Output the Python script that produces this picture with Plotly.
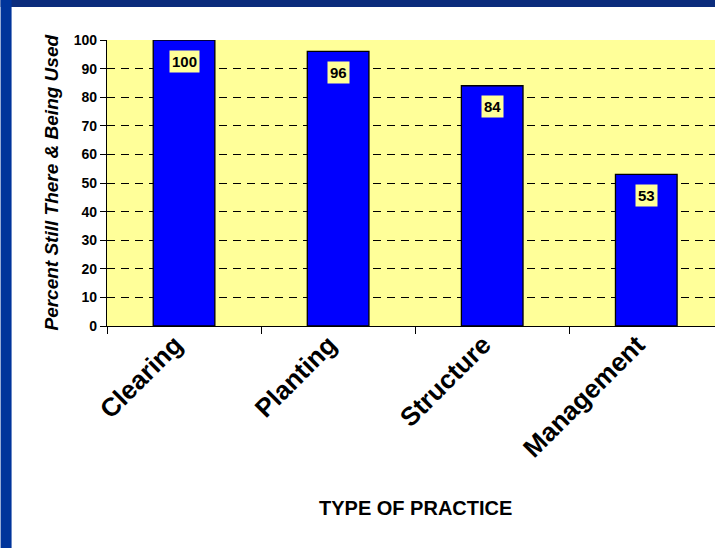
import plotly.graph_objects as go

categories = ["Clearing", "Planting", "Structure", "Management"]
values = [100, 96, 84, 53]
y_ticks = [0, 10, 20, 30, 40, 50, 60, 70, 80, 90, 100]

FONT = "Liberation Sans, Arial, sans-serif"
W, H = 715, 548
L, T, B = 106.5, 40, 222
PW = W - L
PH = H - T - B

fig = go.Figure()
fig.add_trace(go.Bar(
    x=categories, y=values,
    marker=dict(color="#0000FF", line=dict(color="black", width=1.3)),
    width=0.4,
    hoverinfo="skip",
))

for c, v in zip(categories, values):
    fig.add_annotation(
        x=c, y=v, xref="x", yref="y", text=str(v), showarrow=False,
        yshift=-21, bgcolor="#FFFF99", borderpad=2,
        font=dict(family=FONT, size=15, color="black", weight="bold"),
    )

def px_x(p):
    return (p - L) / PW

def px_y(p):
    return (H - B - p) / PH

fig.add_annotation(
    x=px_x(50), y=px_y(183), xref="paper", yref="paper",
    text="<i>Percent Still There & Being Used</i>", textangle=-90,
    showarrow=False, xanchor="center", yanchor="middle",
    font=dict(family=FONT, size=19, color="black", weight="bold"),
)
fig.add_annotation(
    x=px_x(415), y=px_y(508), xref="paper", yref="paper",
    text="TYPE OF PRACTICE", showarrow=False,
    xanchor="center", yanchor="middle",
    font=dict(family=FONT, size=20, color="black", weight="bold"),
)

# blue frame strips
fig.add_shape(type="rect", xref="paper", yref="paper",
              x0=px_x(0), x1=px_x(W + 5), y0=px_y(0), y1=px_y(7),
              fillcolor="#0b2c7c", line=dict(width=0), layer="below")
fig.add_shape(type="rect", xref="paper", yref="paper",
              x0=px_x(0), x1=px_x(11), y0=px_y(0), y1=px_y(H + 5),
              fillcolor="#00349b", line=dict(width=0), layer="below")

fig.update_layout(
    width=W, height=H,
    margin=dict(l=L, r=0, t=T, b=B),
    paper_bgcolor="white",
    plot_bgcolor="#FFFF99",
    showlegend=False,
    bargap=0.6,
    xaxis=dict(
        type="category", range=[-0.5, 3.446],
        showline=True, linecolor="black", linewidth=1.3,
        ticks="outside", tickson="boundaries", ticklen=7, tickcolor="black",
        tickangle=-45, showgrid=False,
        ticklabelshift=-9, ticklabelstandoff=-8,
        tickfont=dict(family=FONT, size=26, color="black", weight="bold"),
    ),
    yaxis=dict(
        range=[0, 100], tickvals=y_ticks,
        showline=True, linecolor="black", linewidth=1.3,
        ticks="outside", ticklen=6, tickcolor="black",
        showgrid=True, gridcolor="black", gridwidth=1, griddash="8px,6px",
        zeroline=False,
        tickfont=dict(family=FONT, size=14, color="black", weight="bold"),
    ),
)

fig.write_html(
    "out.html",
    config={"displayModeBar": False},
    post_script="document.body.style.margin='0';document.body.style.overflow='hidden';",
)
